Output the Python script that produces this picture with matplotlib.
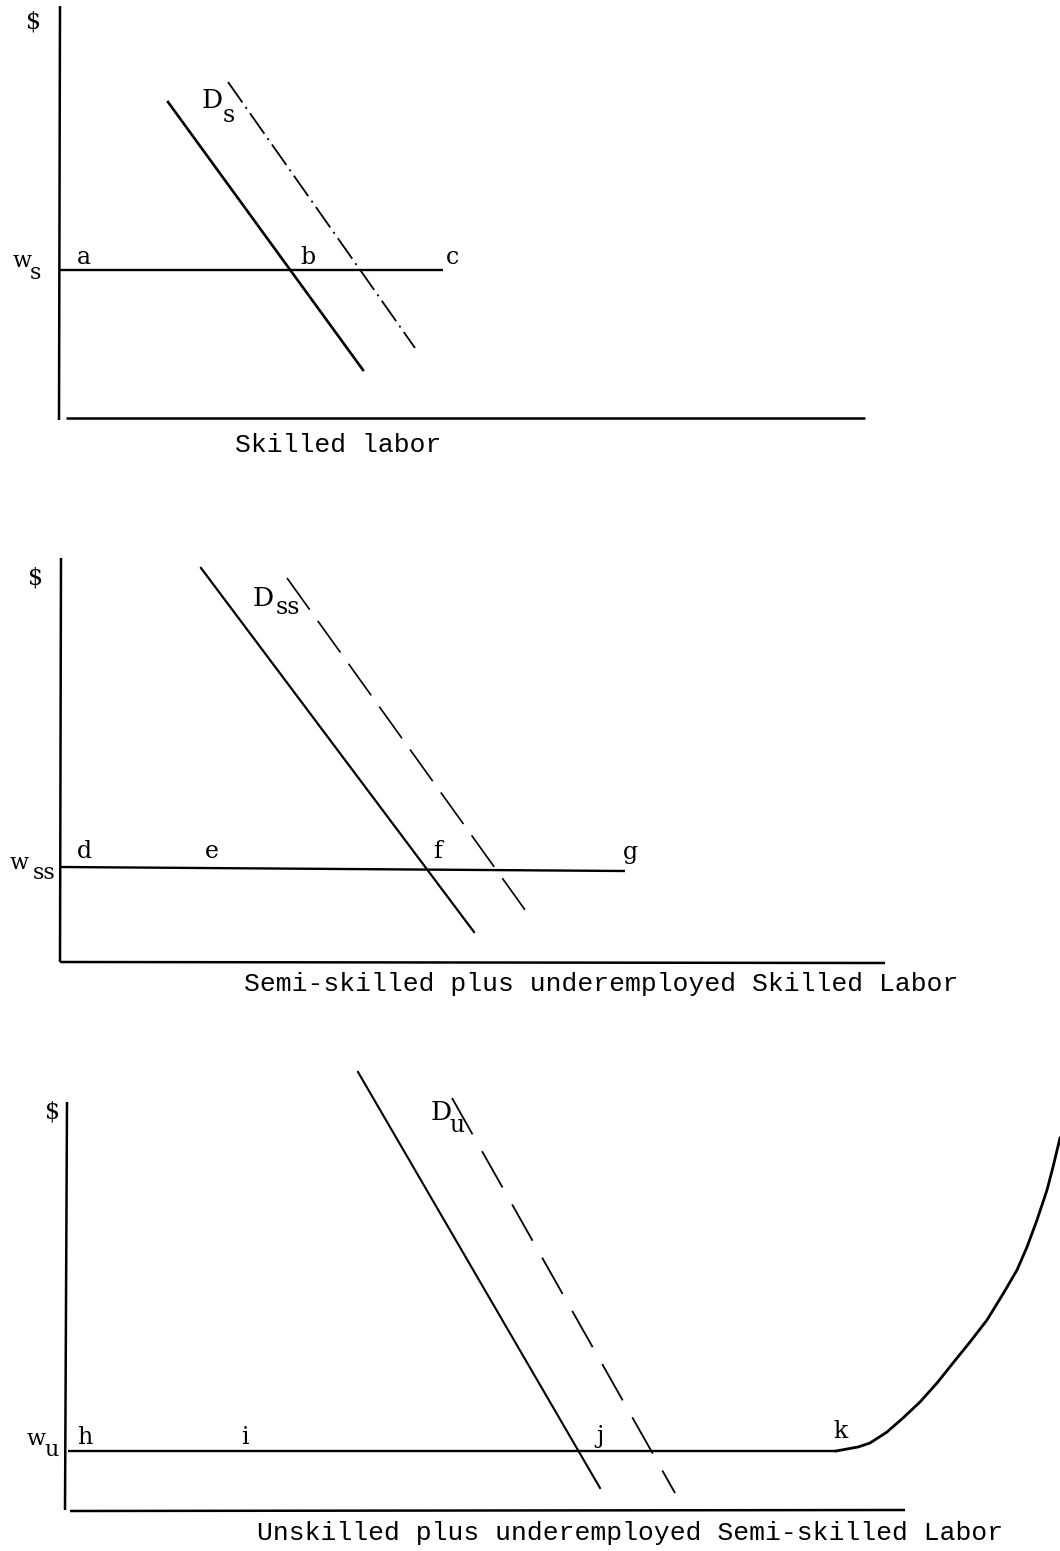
import numpy as np
import matplotlib.pyplot as plt

plt.rcParams['lines.scale_dashes'] = False

# all coordinates (pixels, y grows downward)
# --- panel 1: skilled labor
p1_vaxis = ([60, 59], [6, 420])
p1_haxis = ([66, 865], [418, 418])
p1_wage = ([60, 443], [270, 270])
p1_demand = ([168, 363], [102, 370])
p1_demand_new = ([228, 415], [82, 348])
p1_points = ['a', 'b', 'c']
p1_points_x = [84, 308, 452]
p1_points_y = [258, 257, 257]

# --- panel 2: semi-skilled
p2_vaxis = ([61, 60], [558, 962])
p2_haxis = ([60, 885], [962, 963])
p2_wage = ([60, 625], [867, 871])
p2_demand = ([201, 474], [568, 932])
p2_demand_new = ([287, 533], [578, 921])
p2_points = ['d', 'e', 'f', 'g']
p2_points_x = [84, 212, 438, 630]
p2_points_y = [851, 852, 851, 852]

# --- panel 3: unskilled
p3_vaxis = ([67, 65], [1102, 1510])
p3_haxis = ([70, 905], [1511, 1510])
p3_wage = ([68, 836], [1451, 1451])
p3_supply_x = [836, 847, 858, 870, 887, 903, 920, 937, 953, 970, 987, 1003, 1017, 1027, 1037, 1047, 1053, 1060]
p3_supply_y = [1451, 1449, 1447, 1443, 1432, 1418, 1402, 1383, 1363, 1342, 1320, 1294, 1270, 1247, 1220, 1190, 1167, 1138]
p3_demand = ([358, 600], [1072, 1488])
p3_demand_new = ([452, 675], [1098, 1493])
p3_points = ['h', 'i', 'j', 'k']
p3_points_x = [85, 245, 600, 840]
p3_points_y = [1437, 1437, 1437, 1432]

titles = ['Skilled labor',
          'Semi-skilled plus underemployed Skilled Labor',
          'Unskilled plus underemployed Semi-skilled Labor']
titles_x = [338, 601, 630]
titles_y = [445, 984, 1533]

fig = plt.figure(figsize=(10.6, 15.51), dpi=100)
ax = fig.add_axes([0, 0, 1, 1])
ax.set_xlim(0, 1060)
ax.set_ylim(1551, 0)
ax.axis('off')

serif = 'DejaVu Serif'
mono = 'Liberation Mono'
k = 'black'

for v, h, w in [(p1_vaxis, p1_haxis, p1_wage), (p2_vaxis, p2_haxis, p2_wage),
                (p3_vaxis, p3_haxis, p3_wage)]:
    ax.plot(*v, color=k, lw=1.8, solid_capstyle='butt')
    ax.plot(*h, color=k, lw=1.8, solid_capstyle='butt')
    ax.plot(*w, color=k, lw=1.7, solid_capstyle='butt')

ax.plot(*p1_demand, color=k, lw=1.9)
ax.plot(*p2_demand, color=k, lw=1.6)
ax.plot(*p3_demand, color=k, lw=1.5)

ax.plot(*p1_demand_new, color=k, lw=1.3, linestyle=(0, (18, 4, 1.5, 4)))
ax.plot(*p2_demand_new, color=k, lw=1.2, linestyle=(0, (28, 10)))
ax.plot(*p3_demand_new, color=k, lw=1.3, linestyle=(0, (30, 14)))

ax.plot(p3_supply_x, p3_supply_y, color=k, lw=2.0, solid_joinstyle='round')

# point letters
for names, xs, ys in [(p1_points, p1_points_x, p1_points_y),
                      (p2_points, p2_points_x, p2_points_y),
                      (p3_points, p3_points_x, p3_points_y)]:
    for n, x, y in zip(names, xs, ys):
        ax.text(x, y, n, family=serif, fontsize=17, ha='center', va='center')

# $ labels
for x, y in [(34, 22), (36, 578), (53, 1112)]:
    ax.text(x, y, '$', family=serif, fontsize=17, ha='center', va='center')

# wage labels
ax.text(22, 261, 'w', family=serif, fontsize=16, ha='center', va='center')
ax.text(35, 273, 's', family=serif, fontsize=16, ha='center', va='center')
ax.text(19, 863, 'w', family=serif, fontsize=16, ha='center', va='center')
ax.text(44, 873, 'ss', family=serif, fontsize=16, ha='center', va='center')
ax.text(36, 1439, 'w', family=serif, fontsize=16, ha='center', va='center')
ax.text(52, 1450, 'u', family=serif, fontsize=16, ha='center', va='center')

# demand labels
ax.text(212, 100, 'D', family=serif, fontsize=19, ha='center', va='center')
ax.text(229, 115, 's', family=serif, fontsize=17, ha='center', va='center')
ax.text(263, 598, 'D', family=serif, fontsize=19, ha='center', va='center')
ax.text(288, 608, 'ss', family=serif, fontsize=17, ha='center', va='center')
ax.text(441, 1113, 'D', family=serif, fontsize=19, ha='center', va='center')
ax.text(457, 1125, 'u', family=serif, fontsize=17, ha='center', va='center')

for t, x, y in zip(titles, titles_x, titles_y):
    ax.text(x, y, t, family=mono, fontsize=19, ha='center', va='center')

fig.savefig('out.png', dpi=100)
